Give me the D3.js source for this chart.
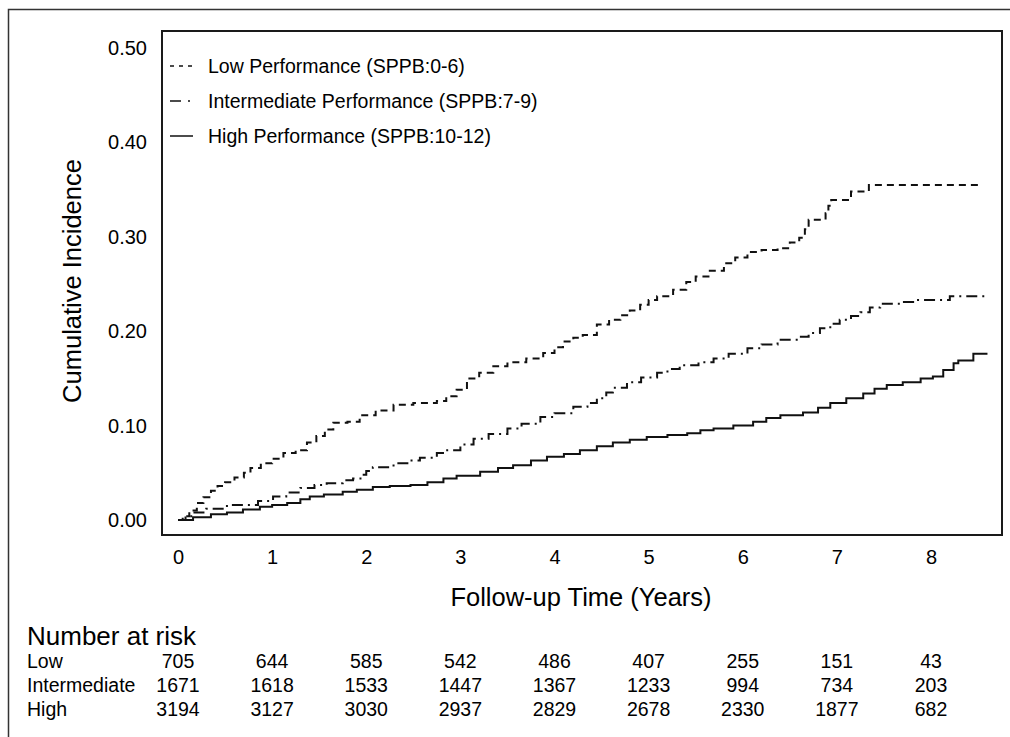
<!DOCTYPE html>
<html>
<head>
<meta charset="utf-8">
<script src="https://cdn.jsdelivr.net/npm/d3@7"></script>
<style>
  html, body { margin: 0; padding: 0; background: #fff; }
  svg { display: block; font-family: "Liberation Sans", Arial, Helvetica, sans-serif; }
</style>
</head>
<body>
<svg id="chart" width="1010" height="737"></svg>
<script>
// Cumulative incidence by SPPB performance group (time in years, incidence)
const lowTime = [0.00,0.05,0.12,0.20,0.27,0.35,0.42,0.50,0.60,0.70,0.77,0.88,1.00,1.12,1.25,1.37,1.47,1.56,1.65,1.80,1.93,2.10,2.29,2.50,2.75,2.85,2.96,3.07,3.20,3.35,3.50,3.70,3.88,4.00,4.09,4.20,4.30,4.45,4.58,4.70,4.80,4.91,5.00,5.09,5.26,5.40,5.50,5.65,5.80,5.92,6.05,6.20,6.37,6.50,6.60,6.66,6.70,6.88,6.91,6.94,7.15,7.34,8.52];
const lowValue = [0.000,0.004,0.010,0.018,0.024,0.031,0.036,0.040,0.045,0.050,0.055,0.060,0.065,0.071,0.074,0.082,0.089,0.096,0.103,0.104,0.111,0.116,0.122,0.124,0.126,0.131,0.138,0.150,0.156,0.163,0.167,0.171,0.177,0.183,0.189,0.193,0.196,0.207,0.212,0.217,0.222,0.228,0.233,0.237,0.244,0.252,0.258,0.264,0.272,0.278,0.284,0.286,0.288,0.294,0.299,0.308,0.318,0.325,0.333,0.339,0.348,0.355,0.355];

const midTime = [0.00,0.08,0.16,0.30,0.52,0.85,1.01,1.15,1.30,1.45,1.58,1.75,1.86,1.95,2.00,2.07,2.29,2.45,2.57,2.75,2.86,3.00,3.14,3.30,3.50,3.65,3.85,4.00,4.20,4.35,4.45,4.55,4.62,4.77,4.92,5.09,5.20,5.33,5.53,5.69,5.85,6.05,6.20,6.37,6.60,6.70,6.82,6.93,7.03,7.15,7.25,7.35,7.46,7.67,7.81,8.20,8.57];
const midValue = [0.000,0.004,0.008,0.012,0.016,0.020,0.025,0.029,0.034,0.037,0.039,0.042,0.044,0.048,0.052,0.056,0.060,0.063,0.066,0.071,0.074,0.080,0.086,0.091,0.097,0.102,0.109,0.113,0.120,0.124,0.129,0.135,0.140,0.146,0.151,0.156,0.160,0.164,0.167,0.171,0.176,0.182,0.186,0.191,0.194,0.198,0.203,0.208,0.212,0.216,0.220,0.225,0.229,0.231,0.233,0.237,0.237];

const highTime = [0.00,0.16,0.35,0.52,0.69,0.87,1.00,1.16,1.30,1.40,1.55,1.75,1.90,2.07,2.25,2.47,2.65,2.82,2.96,3.21,3.40,3.56,3.75,3.92,4.10,4.27,4.45,4.62,4.80,4.98,5.20,5.41,5.55,5.69,5.90,6.11,6.25,6.40,6.64,6.80,6.93,7.10,7.28,7.40,7.53,7.70,7.89,8.02,8.13,8.24,8.29,8.45,8.60];
const highValue = [0.000,0.003,0.006,0.008,0.011,0.014,0.016,0.018,0.022,0.025,0.027,0.030,0.032,0.035,0.036,0.037,0.040,0.044,0.047,0.051,0.055,0.058,0.063,0.067,0.070,0.074,0.078,0.082,0.085,0.088,0.090,0.092,0.095,0.097,0.100,0.104,0.108,0.111,0.114,0.119,0.124,0.129,0.134,0.139,0.143,0.146,0.150,0.152,0.159,0.166,0.169,0.176,0.176];

const seriesNames = ["Low Performance (SPPB:0-6)", "Intermediate Performance (SPPB:7-9)", "High Performance (SPPB:10-12)"];
const xTicks = [0, 1, 2, 3, 4, 5, 6, 7, 8];
const yTicks = [0.00, 0.10, 0.20, 0.30, 0.40, 0.50];

// Number at risk at each yearly tick
const riskGroups = ["Low", "Intermediate", "High"];
const riskLow = [705, 644, 585, 542, 486, 407, 255, 151, 43];
const riskMid = [1671, 1618, 1533, 1447, 1367, 1233, 994, 734, 203];
const riskHigh = [3194, 3127, 3030, 2937, 2829, 2678, 2330, 1877, 682];

const svg = d3.select("#chart");

// outer frame (runs off the right and bottom edges)
svg.append("rect")
  .attr("x", 8.5).attr("y", 9.5).attr("width", 1020).attr("height", 740)
  .attr("fill", "none").attr("stroke", "#333").attr("stroke-width", 1.5);

const box = { left: 162, top: 31, right: 1002, bottom: 535 };
const x = d3.scaleLinear().domain([0, 8]).range([178, 931]);
const y = d3.scaleLinear().domain([0, 0.5]).range([520, 48]);

// plot box
svg.append("rect")
  .attr("x", box.left).attr("y", box.top)
  .attr("width", box.right - box.left).attr("height", box.bottom - box.top)
  .attr("fill", "none").attr("stroke", "#1a1a1a").attr("stroke-width", 2);

// y axis labels (no tick marks)
const yAxis = d3.axisLeft(y).tickValues(yTicks).tickFormat(d3.format(".2f")).tickSize(0).tickPadding(0);
const gy = svg.append("g").attr("transform", "translate(147,0)").call(yAxis);
gy.select(".domain").remove();
gy.selectAll("text").attr("font-size", 20).attr("fill", "#000").attr("font-family", "Liberation Sans, Arial, sans-serif");

// x axis labels
const xAxis = d3.axisBottom(x).tickValues(xTicks).tickFormat(d3.format("d")).tickSize(0).tickPadding(0);
const gx = svg.append("g").attr("transform", "translate(0,550)").call(xAxis);
gx.select(".domain").remove();
gx.selectAll("text").attr("font-size", 20).attr("fill", "#000").attr("font-family", "Liberation Sans, Arial, sans-serif");

// axis titles
svg.append("text")
  .attr("transform", "translate(81,281) rotate(-90)")
  .attr("text-anchor", "middle")
  .attr("font-size", 25.5).attr("fill", "#000")
  .text("Cumulative Incidence");
svg.append("text")
  .attr("x", 581).attr("y", 606)
  .attr("text-anchor", "middle")
  .attr("font-size", 25.5).attr("fill", "#000")
  .text("Follow-up Time (Years)");

// step curves
const styles = [
  { dash: "7,5", legendDash: "4,5" },
  { dash: "11,5,2,5", legendDash: "11,7,2,5" },
  { dash: null, legendDash: null }
];
const seriesData = [
  lowTime.map((t, i) => [t, lowValue[i]]),
  midTime.map((t, i) => [t, midValue[i]]),
  highTime.map((t, i) => [t, highValue[i]])
];
const line = d3.line().x(d => x(d[0])).y(d => y(d[1])).curve(d3.curveStepAfter);

seriesData.forEach((data, i) => {
  svg.append("path")
    .datum(data)
    .attr("d", line)
    .attr("fill", "none")
    .attr("stroke", "#111")
    .attr("stroke-width", 2)
    .attr("stroke-dasharray", styles[i].dash);
});

// legend
const legendRows = [66, 101, 136];
seriesNames.forEach((name, i) => {
  svg.append("line")
    .attr("x1", 170).attr("x2", 193)
    .attr("y1", legendRows[i]).attr("y2", legendRows[i])
    .attr("stroke", "#111").attr("stroke-width", 1.5)
    .attr("stroke-dasharray", styles[i].legendDash);
  svg.append("text")
    .attr("x", 208).attr("y", legendRows[i] + 7)
    .attr("font-size", 19.5).attr("fill", "#000")
    .text(name);
});

// number at risk table
svg.append("text")
  .attr("x", 27).attr("y", 645)
  .attr("font-size", 26).attr("fill", "#000")
  .text("Number at risk");

const riskRows = [riskLow, riskMid, riskHigh];
const riskY = [668, 692, 716];
riskGroups.forEach((g, i) => {
  svg.append("text")
    .attr("x", 27).attr("y", riskY[i])
    .attr("font-size", 19.5).attr("fill", "#000")
    .text(g);
  svg.selectAll(null)
    .data(riskRows[i])
    .enter().append("text")
    .attr("x", (d, j) => x(xTicks[j]))
    .attr("y", riskY[i])
    .attr("text-anchor", "middle")
    .attr("font-size", 19.5).attr("fill", "#000")
    .text(d => d);
});
</script>
</body>
</html>
